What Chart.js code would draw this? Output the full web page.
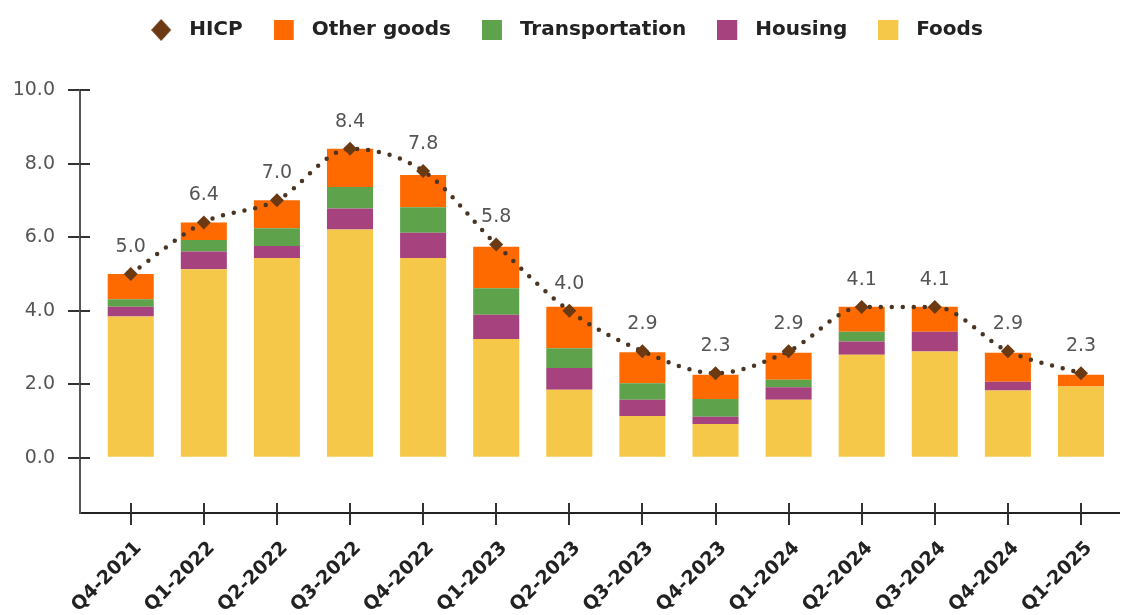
<!DOCTYPE html>
<html>
<head>
<meta charset="utf-8">
<script src="https://cdn.jsdelivr.net/npm/chart.js@4.4.1/dist/chart.umd.min.js"></script>
<style>
  html, body { margin: 0; padding: 0; background: #ffffff; }
  #wrap { width: 1126px; height: 615px; position: relative; }
</style>
</head>
<body>
<div id="wrap"><canvas id="hicpChart"></canvas></div>
<script>
const quarters = ['Q4-2021', 'Q1-2022', 'Q2-2022', 'Q3-2022', 'Q4-2022', 'Q1-2023', 'Q2-2023',
                  'Q3-2023', 'Q4-2023', 'Q1-2024', 'Q2-2024', 'Q3-2024', 'Q4-2024', 'Q1-2025'];
const hicp           = [5.0, 6.4, 7.0, 8.4, 7.8, 5.8, 4.0, 2.9, 2.3, 2.9, 4.1, 4.1, 2.9, 2.3];
const foods          = [3.84, 5.13, 5.43, 6.21, 5.43, 3.23, 1.85, 1.14, 0.92, 1.58, 2.80, 2.89, 1.83, 1.94];
const housing        = [0.27, 0.48, 0.33, 0.57, 0.69, 0.66, 0.59, 0.44, 0.20, 0.34, 0.36, 0.54, 0.24, 0.00];
const transportation = [0.20, 0.31, 0.48, 0.58, 0.69, 0.72, 0.54, 0.45, 0.48, 0.20, 0.27, 0.00, 0.00, 0.00];
const otherGoods     = [0.69, 0.48, 0.76, 1.04, 0.88, 1.13, 1.13, 0.84, 0.66, 0.74, 0.68, 0.68, 0.79, 0.32];
const yTicks = [0, 2, 4, 6, 8, 10];
const legendOrder = ['HICP', 'Other goods', 'Transportation', 'Housing', 'Foods'];

const cores = {
    foods: '#F5C84A',
    housing: '#A6437E',
    transport: '#5EA34B',
    other: '#FF6A00',
    hicp: '#6B3A12',
    dots: '#4A3422',
    axis: '#333333',
    texto: '#555555'
};

const fonte = "'DejaVu Sans', sans-serif";

// ícones da legenda: quadrado ou losango à esquerda de uma caixa de 28px
function icone(cor, losango) {
    const c = document.createElement('canvas');
    c.width = 28;
    c.height = 24;
    const g = c.getContext('2d');
    g.fillStyle = cor;
    if (losango) {
        g.beginPath();
        g.moveTo(10, 1);
        g.lineTo(20, 12);
        g.lineTo(10, 23);
        g.lineTo(0, 12);
        g.closePath();
        g.fill();
    } else {
        g.fillRect(0, 2, 20, 20);
    }
    return c;
}

const icones = {
    'HICP': icone(cores.hicp, true),
    'Other goods': icone(cores.other),
    'Transportation': icone(cores.transport),
    'Housing': icone(cores.housing),
    'Foods': icone(cores.foods)
};

// rótulos com o valor do HICP acima de cada losango
const rotulosHicp = {
    id: 'rotulosHicp',
    afterDatasetsDraw(chart) {
        const meta = chart.getDatasetMeta(4);
        const ctx = chart.ctx;
        ctx.save();
        ctx.font = `19px ${fonte}`;
        ctx.fillStyle = cores.texto;
        ctx.textAlign = 'center';
        ctx.textBaseline = 'middle';
        meta.data.forEach((pt, i) => {
            ctx.fillText(hicp[i].toFixed(1), pt.x, pt.y - 27);
        });
        ctx.restore();
    }
};

// parte interna dos traços dos eixos (cruzando a linha do eixo)
const tracosInternos = {
    id: 'tracosInternos',
    afterDraw(chart) {
        const {ctx, chartArea, scales} = chart;
        ctx.save();
        ctx.lineWidth = 2;
        ctx.strokeStyle = cores.axis;
        scales.y.ticks.forEach(t => {
            const y = Math.round(scales.y.getPixelForValue(t.value));
            ctx.beginPath();
            ctx.moveTo(chartArea.left, y);
            ctx.lineTo(chartArea.left + 10, y);
            ctx.stroke();
        });
        scales.x.ticks.forEach(t => {
            const x = Math.round(scales.x.getPixelForValue(t.value));
            ctx.beginPath();
            ctx.moveTo(x, chartArea.bottom);
            ctx.lineTo(x, chartArea.bottom - 10);
            ctx.stroke();
        });
        ctx.restore();
    }
};

const barra = (label, data, cor) => ({
    type: 'bar',
    label,
    data,
    backgroundColor: cor,
    borderWidth: 0,
    stack: 'cpi',
    order: 1,
    categoryPercentage: 1,
    barPercentage: 0.63
});

new Chart(document.getElementById('hicpChart'), {
    data: {
        labels: quarters.map((q, i) => i),
        datasets: [
            barra('Foods', foods, cores.foods),
            barra('Housing', housing, cores.housing),
            barra('Transportation', transportation, cores.transport),
            barra('Other goods', otherGoods, cores.other),
            {
                type: 'line',
                label: 'HICP',
                data: hicp,
                stack: 'hicp',
                order: 0,
                borderColor: cores.dots,
                borderWidth: 4.5,
                borderDash: [0, 11],
                borderCapStyle: 'round',
                cubicInterpolationMode: 'monotone',
                fill: false,
                pointStyle: 'rectRot',
                pointRadius: 7,
                pointBackgroundColor: cores.hicp,
                pointBorderWidth: 0,
                backgroundColor: cores.hicp
            }
        ]
    },
    options: {
        responsive: true,
        maintainAspectRatio: false,
        animation: false,
        layout: { padding: { top: -11, left: 10, right: 2, bottom: 0 } },
        plugins: {
            legend: {
                position: 'top',
                weight: 1000,
                labels: {
                    usePointStyle: true,
                    pointStyleWidth: 28,
                    boxHeight: 20,
                    padding: 31,
                    color: '#222222',
                    font: { family: fonte, size: 20, weight: 'bold' },
                    generateLabels: chart => {
                        const itens = Chart.defaults.plugins.legend.labels.generateLabels(chart);
                        itens.forEach(it => { it.pointStyle = icones[it.text]; });
                        return itens;
                    },
                    sort: (a, b) => legendOrder.indexOf(a.text) - legendOrder.indexOf(b.text)
                }
            },
            // espaço vazio entre a legenda e a área do gráfico
            title: {
                display: true,
                text: '',
                position: 'top',
                weight: 500,
                font: { size: 10, lineHeight: 1 },
                padding: { top: 0, bottom: 30 }
            },
            tooltip: { enabled: false }
        },
        scales: {
            x: {
                type: 'linear',
                stacked: true,
                offset: false,
                min: -0.694,
                max: 13.52,
                afterBuildTicks: s => { s.ticks = quarters.map((q, i) => ({ value: i })); },
                afterFit: s => { s.height = 102; },
                border: { color: '#222222', width: 2 },
                grid: { offset: false, drawOnChartArea: false, tickLength: 12, color: cores.axis, lineWidth: 2 },
                ticks: {
                    minRotation: 45,
                    maxRotation: 45,
                    autoSkip: false,
                    padding: 12,
                    labelOffset: 8,
                    color: '#222222',
                    font: { family: fonte, size: 19, weight: 'bold' },
                    callback: v => quarters[v]
                }
            },
            y: {
                stacked: true,
                min: -1.5,
                max: 10,
                afterBuildTicks: s => { s.ticks = yTicks.map(v => ({ value: v })); },
                afterFit: s => { s.width = 70; },
                border: { color: '#555555', width: 2 },
                grid: { drawOnChartArea: false, tickLength: 12, color: cores.axis, lineWidth: 2 },
                ticks: {
                    padding: 13,
                    color: cores.texto,
                    font: { family: fonte, size: 19 },
                    callback: v => v.toFixed(1)
                }
            }
        }
    },
    plugins: [rotulosHicp, tracosInternos]
});
</script>
</body>
</html>
